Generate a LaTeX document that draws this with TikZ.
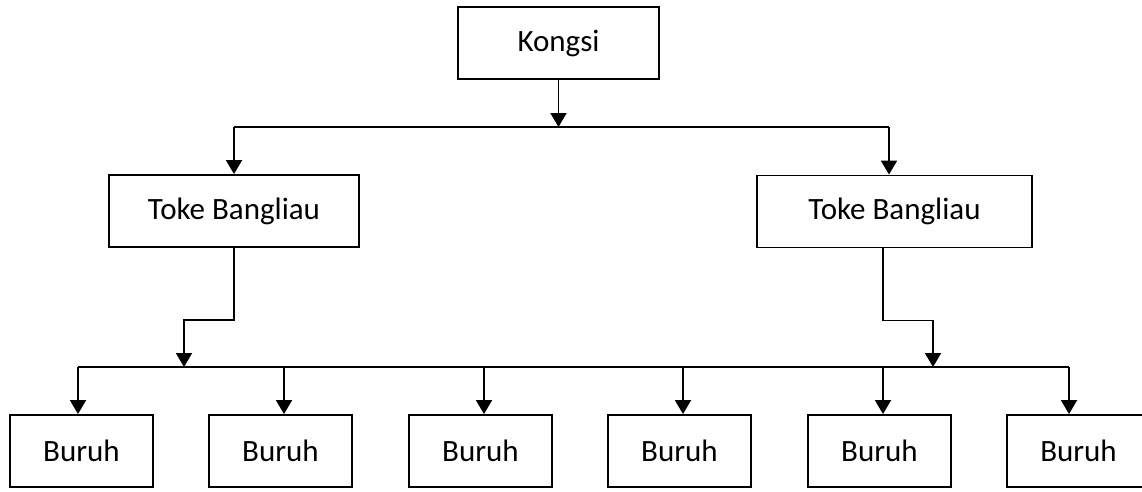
\documentclass[tikz,border=0pt]{standalone}
\usepackage{fontspec}
\setmainfont{Carlito}
\usetikzlibrary{arrows.meta}
\begin{document}
\begin{tikzpicture}[x=1pt,y=-1pt,
  box/.style={draw,line width=1.9pt,rectangle,inner sep=0pt,minimum height=72pt,
    font=\fontsize{31}{37}\selectfont},
  conn/.style={line width=1.9pt},
  arr/.style={conn,-{Triangle[width=16pt,length=14pt]}}]
\clip (0,0) rectangle (1142,491);
\useasboundingbox (0,0) rectangle (1142,491);
\node[box,minimum width=201pt] (kongsi) at (558.5,43) {Kongsi};
\node[box,minimum width=250pt] (tokeL) at (234,211) {Toke Bangliau};
\node[box,minimum width=275pt] (tokeR) at (894.5,211.5) {Toke Bangliau};
\foreach \n/\x in {b1/81.5,b2/280.5,b3/480.5,b4/679.5,b5/879.5,b6/1078.5}
  \node[box,minimum width=143pt] (\n) at (\x,451) {Buruh};
\coordinate (tb) at (0,127);
\coordinate (bb) at (0,367);
\coordinate (tbL) at (234,127);
\coordinate (tbR) at (889,127);
\coordinate (jL) at (184,367);
\coordinate (jR) at (933,367);
% top level
\draw[arr] (kongsi.south) -- (kongsi.south |- tb);
\draw[conn] (tbL) -- (tbR);
\draw[arr] (tbL) -- (tokeL.north);
\draw[arr] (tbR) -- (tbR |- tokeR.north);
% toke to bus
\draw[arr] (tokeL.south) -- ++(0,72) -| (jL);
\draw[arr] ([xshift=-11.5pt]tokeR.south) -- ++(0,72) -| (jR);
% bottom bus
\foreach \n/\d in {b1/-3.5,b2/3.5,b3/3.5,b4/3.5,b5/3.5,b6/-9.5}{
  \path ([xshift=\d pt]\n.north) coordinate (t\n);
  \draw[arr] (t\n |- bb) -- (t\n);
}
\draw[conn] (tb1 |- bb) -- (tb6 |- bb);
\end{tikzpicture}
\end{document}
